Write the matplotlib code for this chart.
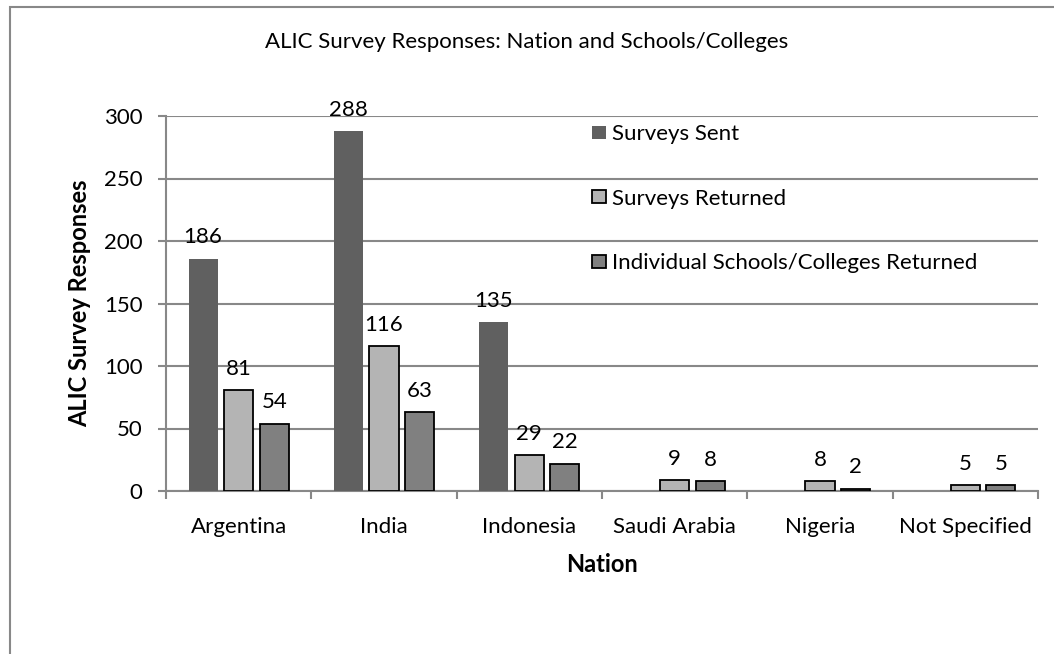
import numpy as np
import matplotlib.pyplot as plt
from matplotlib.patches import Rectangle

nations = ["Argentina", "India", "Indonesia", "Saudi Arabia", "Nigeria", "Not Specified"]
surveys_sent = [186, 288, 135, 0, 0, 0]
surveys_returned = [81, 116, 29, 9, 8, 5]
schools_returned = [54, 63, 22, 8, 2, 5]

series = [
    ("Surveys Sent", surveys_sent, '#606060', 'none'),
    ("Surveys Returned", surveys_returned, '#b4b4b4', 'black'),
    ("Individual Schools/Colleges Returned", schools_returned, '#808080', 'black'),
]

plt.rcParams['font.family'] = ['Lato', 'DejaVu Sans']
GRID = '#888888'
FS = 16
FS_LABEL = 17

fig = plt.figure(figsize=(10.54, 6.54), dpi=100)
ax = fig.add_axes([166 / 1054, 1 - 491 / 654, (1038 - 166) / 1054, (491 - 116) / 654])

# outer chart border (only top and left visible)
fig.patches.append(Rectangle((10 / 1054, -0.1), 1.2, 0.1 + (654 - 7) / 654,
                             transform=fig.transFigure, fill=False,
                             edgecolor=GRID, lw=1.5, zorder=0))

x = np.arange(len(nations))
w = 0.2
step = 0.245
for i, (name, vals, col, ec) in enumerate(series):
    pos = x + (i - 1) * step
    lw = 0 if ec == 'none' else 1.3
    ax.bar(pos, vals, width=w, color=col, edgecolor=ec, linewidth=lw, label=name, zorder=3)
    for px, v in zip(pos, vals):
        if v == 0 and ec == 'none':
            continue
        ax.annotate(str(v), (px, v), xytext=(0, 8), textcoords='offset points',
                    ha='center', va='bottom', fontsize=FS, zorder=4)

ax.set_xlim(-0.5, len(nations) - 0.5)
ax.set_ylim(0, 300)
ax.set_yticks(range(0, 301, 50))
ax.yaxis.grid(True, color=GRID, lw=1.5, zorder=0)
ax.set_axisbelow(True)

ax.set_xticks(x)
ax.set_xticklabels(nations, fontsize=FS)
ax.set_xticks(np.arange(-0.5, len(nations)), minor=True)
ax.tick_params(axis='x', which='major', length=0, pad=19)
ax.tick_params(axis='x', which='minor', length=5.5, width=1.5, color=GRID, direction='out')
ax.tick_params(axis='y', length=6, width=1.5, color=GRID, direction='out', labelsize=FS, pad=11)

for s in ['top', 'right']:
    ax.spines[s].set_visible(False)
for s in ['left', 'bottom']:
    ax.spines[s].set_color(GRID)
    ax.spines[s].set_linewidth(1.5)

ax.set_xlabel("Nation", fontsize=FS_LABEL, fontweight='bold', labelpad=11)
ax.set_ylabel("ALIC Survey Responses", fontsize=FS_LABEL, fontweight='bold', labelpad=9)
fig.text(527 / 1054, 1 - 42 / 654, "ALIC Survey Responses: Nation and Schools/Colleges",
         ha='center', va='center', fontsize=FS)

ax.legend(loc='upper left', bbox_to_anchor=((588 - 166) / 872, 0.99), frameon=False,
          fontsize=FS, handlelength=0.6, handleheight=0.55, handletextpad=0.3,
          labelspacing=2.0, borderpad=0.2, borderaxespad=0)

fig.savefig("out.png", dpi=100)
